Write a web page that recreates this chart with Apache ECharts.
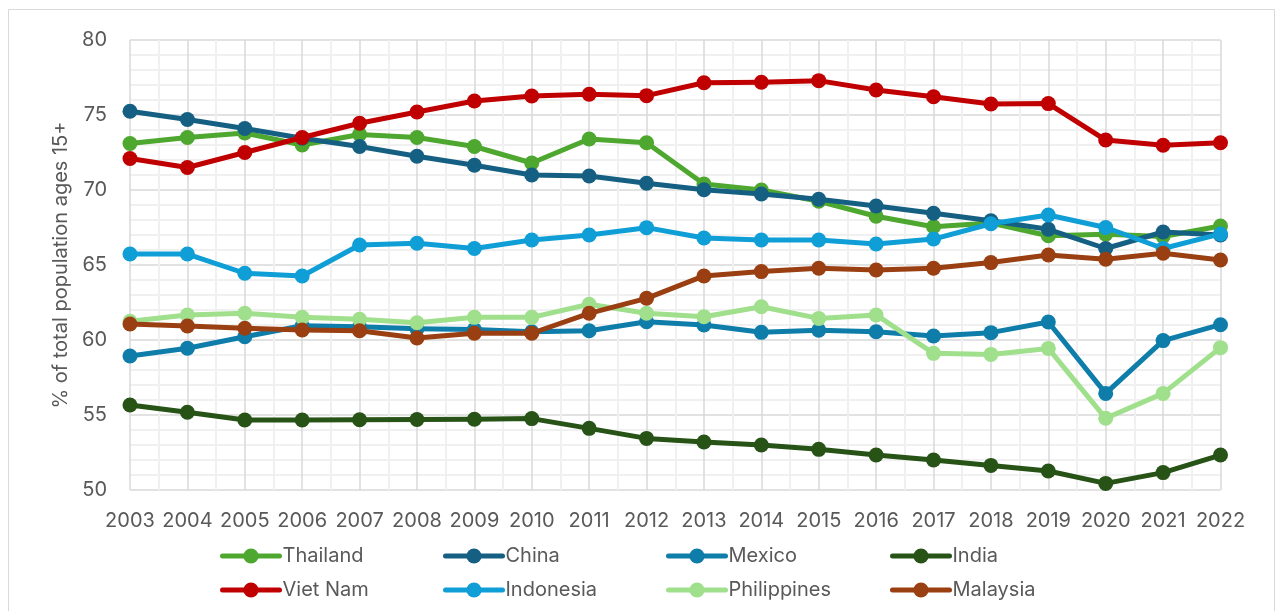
<!DOCTYPE html>
<html>
<head>
<meta charset="utf-8">
<title>Labour force participation, ages 15+</title>
<script src="https://cdn.jsdelivr.net/npm/echarts@6/dist/echarts.min.js"></script>
<style>
  html, body { margin: 0; padding: 0; background: #ffffff; }
  #chart { width: 1277px; height: 611px; }
</style>
</head>
<body>
<div id="chart"></div>
<script>
// Years on the category axis
const years = ['2003','2004','2005','2006','2007','2008','2009','2010','2011','2012',
               '2013','2014','2015','2016','2017','2018','2019','2020','2021','2022'];

// % of total population ages 15+, one array per country
const thailand    = [73.1, 73.5, 73.8, 73.0, 73.7, 73.5, 72.9, 71.8, 73.4, 73.15, 70.4, 70.0, 69.25, 68.25, 67.55, 67.8, 66.95, 67.05, 66.9, 67.6];
const china       = [75.25, 74.7, 74.1, 73.45, 72.9, 72.25, 71.65, 71.0, 70.93, 70.45, 70.02, 69.73, 69.38, 68.93, 68.45, 67.95, 67.38, 66.1, 67.2, 67.0];
const mexico      = [58.93, 59.45, 60.22, 60.95, 60.88, 60.75, 60.7, 60.55, 60.62, 61.22, 61.0, 60.51, 60.65, 60.55, 60.27, 60.49, 61.2, 56.44, 59.96, 61.02];
const india       = [55.67, 55.18, 54.67, 54.67, 54.68, 54.7, 54.72, 54.76, 54.11, 53.44, 53.2, 53.0, 52.71, 52.33, 52.0, 51.64, 51.27, 50.44, 51.16, 52.33];
const vietNam     = [72.1, 71.5, 72.5, 73.5, 74.45, 75.2, 75.93, 76.27, 76.38, 76.29, 77.15, 77.18, 77.29, 76.67, 76.22, 75.73, 75.76, 73.33, 72.98, 73.15];
const indonesia   = [65.73, 65.73, 64.45, 64.27, 66.33, 66.45, 66.1, 66.67, 67.0, 67.49, 66.8, 66.67, 66.67, 66.4, 66.73, 67.75, 68.33, 67.5, 66.1, 67.07];
const philippines = [61.25, 61.67, 61.78, 61.51, 61.38, 61.15, 61.51, 61.51, 62.38, 61.78, 61.55, 62.22, 61.44, 61.67, 59.11, 59.04, 59.44, 54.78, 56.44, 59.49];
const malaysia    = [61.07, 60.93, 60.78, 60.67, 60.62, 60.13, 60.45, 60.45, 61.78, 62.78, 64.27, 64.56, 64.78, 64.67, 64.78, 65.16, 65.67, 65.38, 65.78, 65.33];

// Y axis ticks
const yTicks = { min: 50, max: 80, step: 5 };
const yTitle = '% of total population ages 15+';

// Series in drawing / legend order
const countries = [
  { name: 'Thailand',    values: thailand,    color: '#4EA72E' },
  { name: 'China',       values: china,       color: '#156082' },
  { name: 'Mexico',      values: mexico,      color: '#0F7DAA' },
  { name: 'India',       values: india,       color: '#275317' },
  { name: 'Viet Nam',    values: vietNam,     color: '#C00000' },
  { name: 'Indonesia',   values: indonesia,   color: '#0F9ED5' },
  { name: 'Philippines', values: philippines, color: '#A0DF8C' },
  { name: 'Malaysia',    values: malaysia,    color: '#9A3F12' }
];

const FONT = 'Inter, "Liberation Sans", Arial, sans-serif';
const TEXT = '#595959';

const chart = echarts.init(document.getElementById('chart'), null, { renderer: 'canvas' });

// Legend: two rows of four equally spaced columns
const legendCols = [220, 443, 666, 890];
const legendRows = [546, 580];
const legends = countries.map((c, i) => ({
  data: [c.name],
  left: legendCols[i % 4],
  top: legendRows[Math.floor(i / 4)],
  padding: 0,
  itemWidth: 57,
  itemHeight: 19,
  itemGap: 0,
  lineStyle: { width: 5, cap: 'round' },
  textStyle: { fontFamily: FONT, fontSize: 20, color: TEXT, padding: [0, 0, 0, -2] }
}));

const option = {
  backgroundColor: '#ffffff',
  animation: false,
  graphic: [{
    type: 'rect',
    shape: { x: 8.5, y: 9.5, width: 1266, height: 640 },
    style: { fill: 'none', stroke: '#D9D9D9', lineWidth: 1 },
    silent: true,
    z: -10
  }],
  legend: legends,
  grid: { left: 130, right: 56.5, top: 40, bottom: 121, containLabel: false },
  xAxis: [{
    type: 'category',
    data: years,
    boundaryGap: false,
    axisLine: { show: false },
    axisTick: { show: false },
    splitLine: { show: false },
    axisLabel: { interval: 0, fontFamily: FONT, fontSize: 20, color: TEXT, margin: 21 }
  }, {
    // vertical grid: solid lines at each year and lighter ones halfway between
    type: 'value',
    min: 0,
    max: years.length - 1,
    interval: 1,
    show: true,
    axisLine: { show: false },
    axisTick: { show: false },
    axisLabel: { show: false },
    splitLine: { show: true, lineStyle: { color: '#D9D9D9', width: 1.5 } },
    minorTick: { show: false, splitNumber: 2 },
    minorSplitLine: { show: true, lineStyle: { color: '#F0F0F0', width: 2 } }
  }],
  yAxis: {
    type: 'value',
    min: yTicks.min,
    max: yTicks.max,
    interval: yTicks.step,
    name: yTitle,
    nameLocation: 'middle',
    nameGap: 58,
    nameTextStyle: { fontFamily: FONT, fontSize: 20, color: TEXT },
    axisLine: { show: false },
    axisTick: { show: false },
    axisLabel: { fontFamily: FONT, fontSize: 20, color: TEXT, margin: 23 },
    splitLine: { show: true, lineStyle: { color: '#D9D9D9', width: 1.5 } },
    minorTick: { show: false, splitNumber: 5 },
    minorSplitLine: { show: true, lineStyle: { color: '#F0F0F0', width: 2 } }
  },
  series: countries.map((c, i) => ({
    name: c.name,
    type: 'line',
    xAxisIndex: 0,
    data: c.values,
    z: 3 + i,
    symbol: 'circle',
    symbolSize: 15,
    showAllSymbol: true,
    lineStyle: { color: c.color, width: 5, cap: 'round', join: 'round' },
    itemStyle: { color: c.color },
    emphasis: { disabled: true }
  }))
};

chart.setOption(option);
</script>
</body>
</html>
